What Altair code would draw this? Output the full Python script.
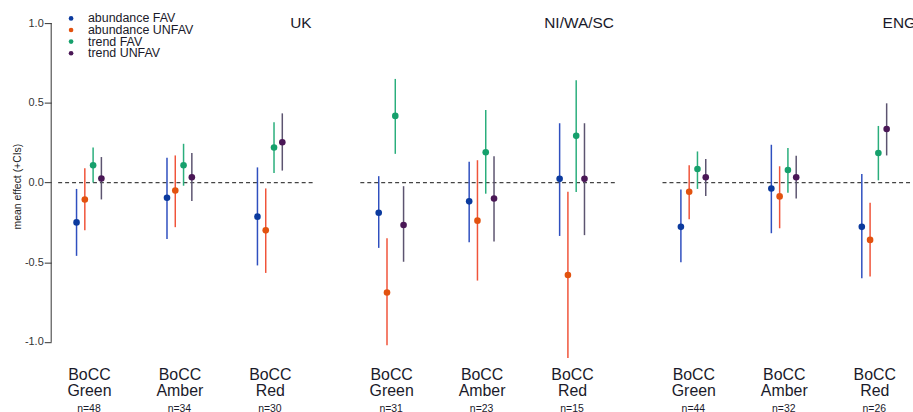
import altair as alt
import pandas as pd

panels = ["UK", "NI/WA/SC", "ENG"]
groups = ["Green", "Amber", "Red"]
series = ["abundance FAV", "abundance UNFAV", "trend FAV", "trend UNFAV"]

# values ordered: Green(4 series), Amber(4 series), Red(4 series)
uk_mean = [-0.25, -0.106, 0.108, 0.025, -0.095, -0.05, 0.108, 0.033, -0.214, -0.30, 0.22, 0.253]
uk_low = [-0.46, -0.30, 0.0, -0.106, -0.355, -0.28, -0.02, -0.116, -0.52, -0.567, 0.06, 0.075]
uk_high = [-0.04, 0.09, 0.22, 0.16, 0.155, 0.17, 0.243, 0.185, 0.095, -0.037, 0.378, 0.434]

ni_mean = [-0.19, -0.69, 0.418, -0.266, -0.118, -0.239, 0.19, -0.10, 0.023, -0.58, 0.293, 0.023]
ni_low = [-0.41, -1.02, 0.18, -0.497, -0.375, -0.615, -0.07, -0.37, -0.335, -1.10, -0.06, -0.33]
ni_high = [0.04, -0.35, 0.65, -0.023, 0.13, 0.14, 0.455, 0.165, 0.372, -0.058, 0.642, 0.372]

eng_mean = [-0.278, -0.058, 0.085, 0.033, -0.037, -0.087, 0.079, 0.033, -0.278, -0.36, 0.185, 0.336]
eng_low = [-0.50, -0.23, -0.04, -0.085, -0.318, -0.287, -0.064, -0.10, -0.60, -0.59, 0.014, 0.17]
eng_high = [-0.044, 0.108, 0.195, 0.148, 0.237, 0.102, 0.216, 0.168, 0.054, -0.127, 0.355, 0.497]

uk_n = ["n=48", "n=34", "n=30"]
ni_n = ["n=31", "n=23", "n=15"]
eng_n = ["n=44", "n=32", "n=26"]

point_colors = ["#0b3a9e", "#e2520f", "#16a06c", "#4a1756"]
line_colors = ["#2f4fbf", "#f0543a", "#2aae7c", "#5c5470"]

FONT = "Liberation Sans"
W, H = 256, 356
YDOM = [-1.12, 1.1]


def make_df(mean, low, high):
    rows = []
    i = 0
    for g in groups:
        for s in series:
            rows.append({"group": g, "series": s, "mean": mean[i], "low": low[i], "high": high[i]})
            i += 1
    return pd.DataFrame(rows)


def legend_layer():
    ldf = pd.DataFrame({"series": series})
    ly = alt.Y("series:N", scale=alt.Scale(type="point", domain=series, range=[11.3, 46.3], padding=0), axis=None)
    dots = alt.Chart(ldf).mark_circle(size=22, opacity=1).encode(
        x=alt.value(13), y=ly,
        color=alt.Color("series:N", scale=alt.Scale(domain=series, range=point_colors), legend=None),
    )
    labels = alt.Chart(ldf).mark_text(
        align="left", baseline="middle", fontSize=12.5, font=FONT, color="#1a1a2a"
    ).encode(x=alt.value(30), y=ly, text="series:N")
    return alt.layer(dots, labels)


def panel(name, mean, low, high, nlabels, first):
    df = make_df(mean, low, high)
    yscale = alt.Scale(domain=YDOM, nice=False, zero=False)
    xscale = alt.Scale(type="point", domain=groups, range=[31, 213], padding=0)
    xoff = alt.XOffset("series:N", scale=alt.Scale(type="point", domain=series, range=[-12.5, 12.5], padding=0))
    if first:
        yaxis = alt.Axis(
            values=[-1, -0.5, 0, 0.5, 1],
            labelExpr="(datum.value < 0 ? '-' : '') + format(abs(datum.value), '.1f')",
            offset=7, domain=False, tickSize=7, tickColor="#333", tickWidth=1,
            labelFontSize=11, labelColor="#333", labelPadding=1, labelFont=FONT,
            grid=False, title="mean effect (+CIs)", titleFontSize=10.5,
            titleFont=FONT, titleFontWeight="normal", titleColor="#222", titlePadding=2,
            titleY=180,
        )
    else:
        yaxis = None
    xaxis = alt.Axis(
        title=None, domain=False, ticks=False, grid=False,
        labelExpr="['BoCC', datum.label]", labelFontSize=16, labelLineHeight=16,
        labelFont=FONT, labelColor="#1a1a2a", labelPadding=6, labelAngle=0,
    )

    base = alt.Chart(df)
    zero = alt.Chart(pd.DataFrame({"z": [0]})).mark_rule(
        strokeDash=[4, 3], color="#444", strokeWidth=1.2
    ).encode(y=alt.Y("z:Q", scale=yscale, axis=yaxis))

    bars = base.mark_rule(strokeWidth=1.5).encode(
        x=alt.X("group:N", scale=xscale, axis=xaxis, sort=groups),
        xOffset=xoff,
        y=alt.Y("low:Q", scale=yscale, axis=yaxis),
        y2="high:Q",
        color=alt.Color("series:N", scale=alt.Scale(domain=series, range=line_colors), legend=None),
    )
    pts = base.mark_circle(size=44, opacity=1).encode(
        x=alt.X("group:N", scale=xscale, axis=xaxis, sort=groups),
        xOffset=xoff,
        y=alt.Y("mean:Q", scale=yscale, axis=yaxis),
        color=alt.Color("series:N", scale=alt.Scale(domain=series, range=point_colors), legend=None),
    )
    title = alt.Chart(pd.DataFrame({"panel": [name]})).mark_text(
        align="right", baseline="alphabetic", fontSize=15.5, font=FONT, color="#1a1a2a"
    ).encode(x=alt.value(W - 1), y=alt.value(21), text="panel:N")

    ndf = pd.DataFrame({"group": groups, "n": nlabels})
    ntext = alt.Chart(ndf).mark_text(
        baseline="alphabetic", fontSize=10.5, font=FONT, color="#1a1a2a"
    ).encode(
        x=alt.X("group:N", scale=xscale, axis=xaxis, sort=groups),
        y=alt.value(H + 51),
        text="n:N",
    )
    layers = [zero, bars, pts, title, ntext]
    if first:
        axisline = alt.Chart(pd.DataFrame({"a": [-1], "b": [1]})).mark_rule(
            color="#333", strokeWidth=1
        ).encode(x=alt.value(-7), y=alt.Y("a:Q", scale=yscale, axis=yaxis), y2="b:Q")
        layers.insert(0, axisline)
    main = alt.layer(*layers).resolve_scale(color="independent")
    if first:
        out = alt.layer(main, legend_layer()).resolve_scale(y="independent", color="independent")
    else:
        out = main
    return out.properties(width=W, height=H)


p1 = panel("UK", uk_mean, uk_low, uk_high, uk_n, True)
p2 = panel("NI/WA/SC", ni_mean, ni_low, ni_high, ni_n, False)
p3 = panel("ENG", eng_mean, eng_low, eng_high, eng_n, False)

chart = alt.hconcat(p1, p2, p3, spacing=46).resolve_scale(color="independent").properties(
    padding={"left": 12.5, "top": 6, "right": -5, "bottom": -4}, background="white"
).configure_view(stroke=None)

chart.save("out.html", embed_options={"renderer": "svg", "actions": False})
